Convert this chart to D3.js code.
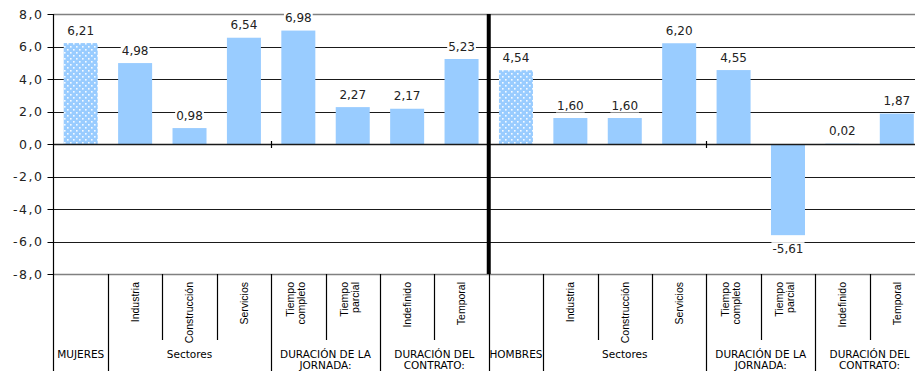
<!DOCTYPE html>
<html><head><meta charset="utf-8">
<script src="https://cdn.jsdelivr.net/npm/d3@7"></script>
<style>html,body{margin:0;padding:0;background:#fff;overflow:hidden}</style>
</head><body><svg id="c" width="915" height="371"></svg>
<script>
const categories = ["MUJERES","Industria","Construcción","Servicios","Tiempo completo","Tiempo parcial","Indefinido","Temporal",
                    "HOMBRES","Industria","Construcción","Servicios","Tiempo completo","Tiempo parcial","Indefinido","Temporal"];
const catLabels = [[],["Industria"],["Construcción"],["Servicios"],["Tiempo","completo"],["Tiempo","parcial"],["Indefinido"],["Temporal"],
                   [],["Industria"],["Construcción"],["Servicios"],["Tiempo","completo"],["Tiempo","parcial"],["Indefinido"],["Temporal"]];
const values = [6.21,4.98,0.98,6.54,6.98,2.27,2.17,5.23, 4.54,1.60,1.60,6.20,4.55,-5.61,0.02,1.87];
const patterned = [true,false,false,false,false,false,false,false, true,false,false,false,false,false,false,false];
const groupLabels = [["MUJERES"],["Sectores"],["DURACIÓN DE LA","JORNADA:"],["DURACIÓN DEL","CONTRATO:"],
                     ["HOMBRES"],["Sectores"],["DURACIÓN DE LA","JORNADA:"],["DURACIÓN DEL","CONTRATO:"]];
const groupStarts = [0,1,4,6,8,9,12,14];
const groupSpans  = [1,3,2,2,1,3,2,2];
const yTicks = [-8,-6,-4,-2,0,2,4,6,8];

(function(){
const svg = d3.select("#c");
const pLeft = 53.5, pRight = 924, pTop = 14, pBottom = 274, svgH = 371;
const x = d3.scaleBand().domain(d3.range(categories.length)).range([pLeft, pRight]).paddingInner(0.375).paddingOuter(0.1875);
const y = d3.scaleLinear().domain([-8, 8]).range([pBottom, pTop]);
const step = x.step();
const loc = d3.formatLocale({decimal: ",", thousands: ".", grouping: [3], currency: ["", "€"], minus: "-"});
const fmt = loc.format(".2f");
const fmtT = loc.format(".1f");

// pattern
const defs = svg.append("defs");
const pat = defs.append("pattern").attr("id","dots").attr("patternUnits","userSpaceOnUse")
  .attr("width",6).attr("height",6);
pat.append("rect").attr("width",6).attr("height",6).attr("fill","#99CCFF");
pat.append("rect").attr("x",1).attr("y",1).attr("width",1.6).attr("height",1.6).attr("fill","#fff").attr("opacity",0.9);
pat.append("rect").attr("x",4).attr("y",4).attr("width",1.6).attr("height",1.6).attr("fill","#fff").attr("opacity",0.9);

// gridlines
svg.append("g").selectAll("line").data(yTicks).join("line")
  .attr("x1", pLeft).attr("x2", 915)
  .attr("y1", d => Math.round(y(d)) + 0.5).attr("y2", d => Math.round(y(d)) + 0.5)
  .attr("stroke", d => (d === 8 || d === -8) ? "#808080" : "#1a1a1a")
  .attr("stroke-width", d => (d === 8 || d === -8) ? 1.6 : 1);

// bars
svg.append("g").selectAll("rect").data(values).join("rect")
  .attr("x", (d,i) => x(i)).attr("width", x.bandwidth())
  .attr("y", d => y(Math.max(0,d))).attr("height", d => Math.abs(y(d) - y(0)))
  .attr("fill", (d,i) => patterned[i] ? "url(#dots)" : "#99CCFF");

// zero line
svg.append("line").attr("x1", pLeft).attr("x2", 915)
  .attr("y1", Math.round(y(0)) + 0.5).attr("y2", Math.round(y(0)) + 0.5)
  .attr("stroke", "#1a1a1a").attr("stroke-width", 1.3);

// x ticks on zero line
svg.append("g").selectAll("line").data([4, 12]).join("line")
  .attr("x1", i => Math.round(pLeft + i*step) + 0.5).attr("x2", i => Math.round(pLeft + i*step) + 0.5)
  .attr("y1", y(0) - 3).attr("y2", y(0) + 4)
  .attr("stroke", "#000").attr("stroke-width", 1.2);

// thick separator
svg.append("line").attr("x1", pLeft + 8*step).attr("x2", pLeft + 8*step)
  .attr("y1", pTop).attr("y2", pBottom).attr("stroke", "#000").attr("stroke-width", 4);

// y axis
const yAxis = svg.append("g");
yAxis.append("line").attr("x1", pLeft).attr("x2", pLeft).attr("y1", pTop).attr("y2", svgH)
  .attr("stroke", "#000").attr("stroke-width", 1.2);
yAxis.selectAll("line.t").data(yTicks).join("line").attr("class","t")
  .attr("x1", pLeft - 6).attr("x2", pLeft)
  .attr("y1", d => Math.round(y(d)) + 0.5).attr("y2", d => Math.round(y(d)) + 0.5)
  .attr("stroke", "#000");
yAxis.selectAll("text").data(yTicks).join("text")
  .attr("x", 43.5).attr("y", d => y(d) + 4.5)
  .attr("text-anchor", "end").attr("font-family", "DejaVu Sans, Verdana, sans-serif")
  .attr("font-size", 12.5).attr("letter-spacing", 1.5).attr("fill", "#222")
  .text(d => fmtT(d));

// value labels with white backgrounds
const lab = svg.append("g").selectAll("g").data(values).join("g")
  .attr("transform", (d,i) => `translate(${x(i) + x.bandwidth()/2},${d >= 0 ? y(d) - 8.5 : y(d) + 18})`);
lab.append("text").attr("text-anchor","middle")
  .attr("font-family","DejaVu Sans, Verdana, sans-serif").attr("font-size",12).attr("fill","#222")
  .text(d => fmt(d));
lab.each(function(){
  const g = d3.select(this); const bb = g.select("text").node().getBBox();
  g.insert("rect","text").attr("x", bb.x - 1).attr("y", bb.y).attr("width", bb.width + 2).attr("height", bb.height).attr("fill","#fff");
});

// category separators
const groupBounds = new Set(groupStarts.concat([categories.length]));
svg.append("g").selectAll("line").data(d3.range(1, categories.length)).join("line")
  .attr("x1", i => Math.round(pLeft + i*step) + 0.5).attr("x2", i => Math.round(pLeft + i*step) + 0.5)
  .attr("y1", pBottom).attr("y2", i => groupBounds.has(i) ? svgH : 340)
  .attr("stroke", "#000").attr("stroke-width", 1.2);

// rotated category labels
const cl = svg.append("g").selectAll("text").data(catLabels).join("text")
  .attr("transform", (d,i) => `translate(${x(i) + x.bandwidth()/2},282) rotate(-90)`)
  .attr("text-anchor","end").attr("font-family","Liberation Sans, Arial, sans-serif")
  .attr("font-size", 10.5).attr("fill","#000");
cl.each(function(d){
  const t = d3.select(this);
  const offs = d.length === 2 ? [-4.5, 6.5] : [3.8];
  d.forEach((s,k) => t.append("tspan").attr("x",0).attr("y", offs[k]).text(s));
});

// group labels
const gl = svg.append("g").selectAll("text").data(groupLabels).join("text")
  .attr("text-anchor","middle").attr("font-family","DejaVu Sans, Verdana, sans-serif")
  .attr("font-size", 10.5).attr("fill","#000");
gl.each(function(d,i){
  const t = d3.select(this);
  const cx = pLeft + (groupStarts[i] + groupSpans[i]/2) * step;
  d.forEach((s,k) => t.append("tspan").attr("x", cx).attr("y", 357.5 + k*11.5).text(s));
});
})();
</script></body></html>
